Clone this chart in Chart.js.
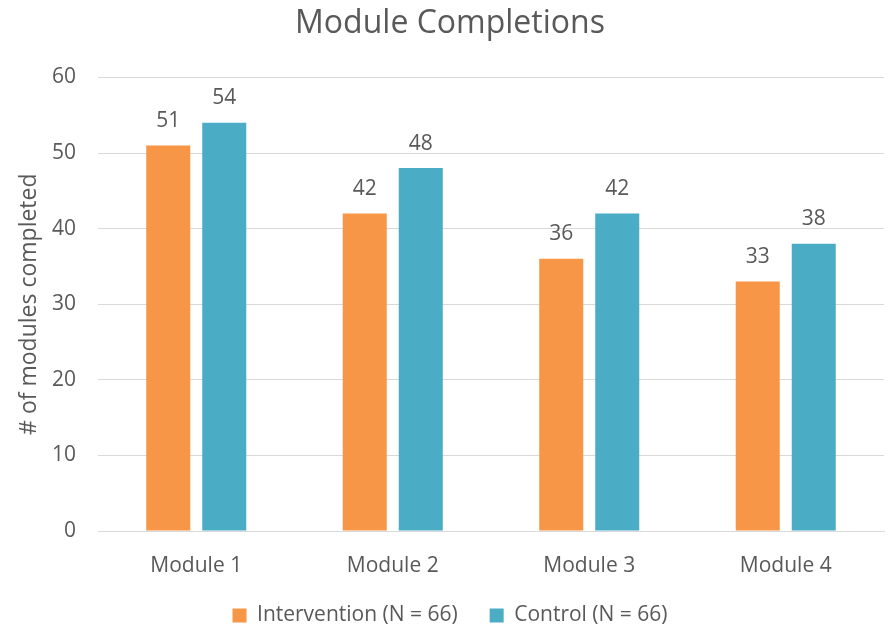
<!DOCTYPE html>
<html>
<head>
<meta charset="utf-8">
<script src="https://cdn.jsdelivr.net/npm/chart.js@4/dist/chart.umd.min.js"></script>
<style>
    html, body { margin: 0; padding: 0; background: #fff; }
    #wrap { width: 893px; height: 626px; position: relative; }
</style>
</head>
<body>
<div id="wrap"><canvas id="moduleChart"></canvas></div>
<script>
// datos de la grafica
const categories = ['Module 1', 'Module 2', 'Module 3', 'Module 4'];
const intervention = [51, 42, 36, 33];
const control = [54, 48, 42, 38];
const seriesNames = ['Intervention (N = 66)', 'Control (N = 66)'];
const yTicks = [0, 10, 20, 30, 40, 50, 60];

const textColor = '#595959';
const fontFamily = "'Open Sans', 'Noto Sans', sans-serif";

// etiquetas de valor encima de cada barra
const valueLabels = {
    id: 'valueLabels',
    afterDatasetsDraw(chart) {
        const ctx = chart.ctx;
        ctx.save();
        ctx.fillStyle = textColor;
        ctx.font = `21px ${fontFamily}`;
        ctx.textAlign = 'center';
        ctx.textBaseline = 'bottom';
        chart.data.datasets.forEach((ds, i) => {
            chart.getDatasetMeta(i).data.forEach((bar, j) => {
                ctx.fillText(ds.data[j], bar.x, bar.y - 14);
            });
        });
        ctx.restore();
    }
};

const ctx = document.getElementById('moduleChart');

new Chart(ctx, {
    type: 'bar',
    data: {
        labels: categories,
        datasets: [
            {
                label: seriesNames[0],
                data: intervention,
                backgroundColor: '#f79646',
                categoryPercentage: 0.57,
                barPercentage: 0.786
            },
            {
                label: seriesNames[1],
                data: control,
                backgroundColor: '#4bacc6',
                categoryPercentage: 0.57,
                barPercentage: 0.786
            }
        ]
    },
    options: {
        responsive: true,
        maintainAspectRatio: false,
        animation: false,
        layout: { padding: { left: 16, right: 9, top: 0, bottom: 0 } },
        plugins: {
            title: {
                display: true,
                text: 'Module Completions',
                color: textColor,
                font: { family: fontFamily, size: 32, weight: 'normal' },
                padding: { top: 5, bottom: 34 }
            },
            legend: {
                position: 'bottom',
                maxHeight: 53,
                labels: {
                    color: textColor,
                    font: { family: fontFamily, size: 21 },
                    boxWidth: 14,
                    boxHeight: 14,
                    padding: 32
                }
            },
            tooltip: { enabled: false }
        },
        scales: {
            x: {
                grid: { display: false },
                border: { color: '#d9d9d9' },
                afterFit(axis) {
                    axis.height = 42;
                },
                ticks: {
                    color: textColor,
                    font: { family: fontFamily, size: 21 },
                    padding: 14
                }
            },
            y: {
                min: 0,
                max: 60,
                afterBuildTicks(axis) {
                    axis.ticks = yTicks.map(v => ({ value: v }));
                },
                afterFit(axis) {
                    axis.width = 82;
                },
                grid: { color: '#d9d9d9', drawTicks: false },
                border: { display: false },
                ticks: {
                    color: textColor,
                    font: { family: fontFamily, size: 21 },
                    padding: 22
                },
                title: {
                    display: true,
                    text: '# of modules completed',
                    color: textColor,
                    font: { family: fontFamily, size: 23 },
                    padding: { top: 0, bottom: 0 }
                }
            }
        }
    },
    plugins: [valueLabels]
});
</script>
</body>
</html>
